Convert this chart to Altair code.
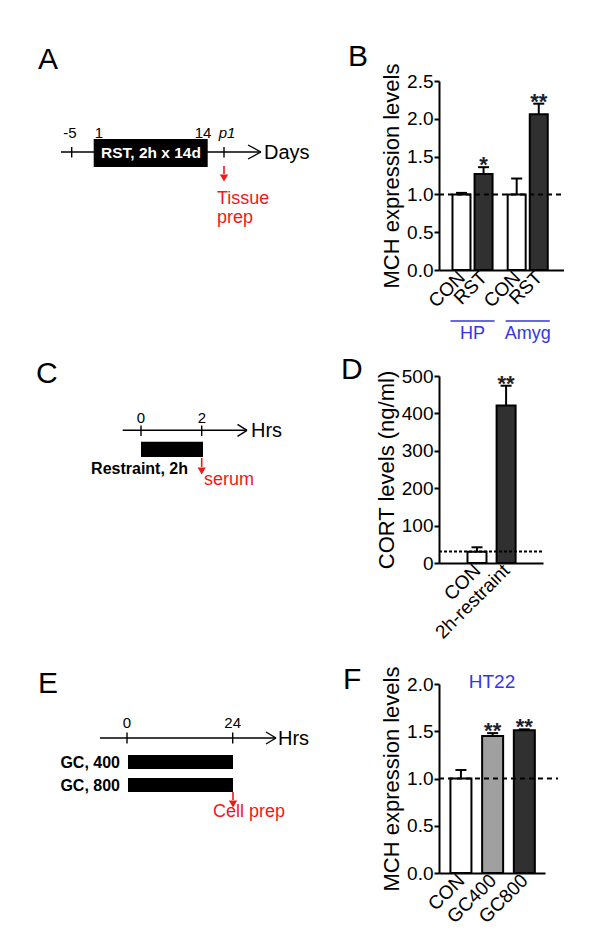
import altair as alt
import pandas as pd

FONT = "Liberation Sans"
RED = "#f01818"
BLUE = "#3535e6"
DARK = "#303030"
GREY = "#a0a0a0"

# ------------------------------------------------------------------ data
B_conditions = ["CON", "RST", "CON", "RST"]
B_regions = ["HP", "HP", "Amyg", "Amyg"]
B_means = [1.00, 1.27, 1.00, 2.06]
B_sems = [0.02, 0.09, 0.21, 0.14]
B_stars = ["", "*", "", "**"]
B_fills = ["white", DARK, "white", DARK]

D_conditions = ["CON", "2h-restraint"]
D_means = [30, 421]
D_sems = [12, 53]
D_stars = ["", "**"]
D_fills = ["white", DARK]

F_conditions = ["CON", "GC400", "GC800"]
F_means = [1.00, 1.45, 1.51]
F_sems = [0.09, 0.03, 0.01]
F_stars = ["", "**", "**"]
F_fills = ["white", GREY, DARK]

A_day_labels = ["-5", "1", "14", "p1"]
C_hour_labels = ["0", "2"]
E_hour_labels = ["0", "24"]

# ------------------------------------------------------------------ layout
COL1_X0, COL1_W = 30, 290
COL2_X0 = 438
ROW_TOPS = [80, 375, 683]
ROW_GAP = 106


def diagram(top, height, lines, boxes, labels, arrows, anchor=False):
    xsc = alt.Scale(domain=[COL1_X0, COL1_X0 + COL1_W], nice=False, zero=False)
    ysc = alt.Scale(domain=[top, top + height], nice=False, zero=False, reverse=True)

    def X(f):
        return alt.X(f + ":Q", scale=xsc, axis=None)

    def Y(f):
        return alt.Y(f + ":Q", scale=ysc, axis=None)

    layers = []
    all_lines = list(lines)
    pts = []
    for (ax, ay0, ay1) in arrows:
        all_lines.append((ax, ay0, ax, ay1 - 4, RED, 1.6))
        pts.append({"x": ax, "y": ay1})
    ldf = pd.DataFrame(all_lines, columns=["x", "y", "x2", "y2", "c", "w"])
    layers.append(
        alt.Chart(ldf).mark_rule(strokeCap="butt").encode(
            x=X("x"), y=Y("y"), x2="x2:Q", y2="y2:Q",
            color=alt.Color("c:N", scale=None),
            strokeWidth=alt.StrokeWidth("w:Q", scale=None),
        )
    )
    bdf = pd.DataFrame(boxes, columns=["x", "y", "x2", "y2"])
    layers.append(
        alt.Chart(bdf).mark_rect(color="black").encode(
            x=X("x"), x2="x2:Q", y=Y("y"), y2="y2:Q"
        )
    )
    if pts:
        layers.append(
            alt.Chart(pd.DataFrame(pts)).mark_point(
                shape="triangle-down", filled=True, color=RED, size=70,
                opacity=1, strokeWidth=0
            ).encode(x=X("x"), y=Y("y"))
        )
    for (t, x, y, style) in labels:
        st = dict(font=FONT, color="black", baseline="alphabetic", align="center")
        st.update(style)
        layers.append(
            alt.Chart(pd.DataFrame({"t": [t], "x": [x], "y": [y]}))
            .mark_text(**st)
            .encode(x=X("x"), y=Y("y"), text="t:N")
        )
    if anchor:
        layers.append(
            alt.Chart(pd.DataFrame({"x": [8], "y": [8]}))
            .mark_point(opacity=0, size=1)
            .encode(x=X("x"), y=Y("y"))
        )
    return alt.layer(*layers).properties(width=COL1_W, height=height)


def bar_panel(conds, means, sems, stars, fills, slots, slot_px, first_px,
              plot_w, plot_h, ydom, yvals, yfmt, ytitle, bar_w,
              ref_value, ref_dash, ref_x2, letter, letter_xy, extra=None):
    tops = [m + s for m, s in zip(means, sems)]
    df = pd.DataFrame(dict(slot=slots, cond=conds, mean=means, top=tops,
                           star=stars, fill=fills))
    xdom = [-first_px / slot_px, (plot_w - first_px) / slot_px]
    xsc = alt.Scale(domain=xdom, nice=False, zero=False)
    ysc = alt.Scale(domain=ydom, nice=False, zero=False)
    label_expr = ("[" + ",".join("'%s'" % c for c in conds) + "][indexof(["
                  + ",".join(str(s) for s in slots) + "], datum.value)]")
    x_axis = alt.Axis(values=slots, labelExpr=label_expr, ticks=False,
                      labelAngle=-45, labelAlign="right", labelBaseline="middle",
                      labelFont=FONT, labelFontSize=19, labelColor="black",
                      labelPadding=4, labelFlush=False, labelOverlap=False,
                      domainColor="black", domainWidth=2, title=None, grid=False)
    y_axis = alt.Axis(values=yvals, format=yfmt, title=ytitle, titleFont=FONT,
                      titleFontSize=22, titleFontWeight="normal", titleColor="black",
                      titlePadding=3, labelFont=FONT, labelFontSize=19,
                      labelColor="black", labelPadding=1, labelFlush=False,
                      labelOverlap=False, tickColor="black", tickWidth=2,
                      tickSize=5, domainColor="black", domainWidth=2, grid=False)

    def XN(f):
        return alt.X(f + ":Q", scale=xsc, axis=x_axis)

    def YN(f):
        return alt.Y(f + ":Q", scale=ysc, axis=y_axis)

    bars = alt.Chart(df).mark_bar(stroke="black", strokeWidth=2, width=bar_w,
                                  orient="vertical", strokeJoin="miter").encode(
        x=XN("slot"),
        y=YN("mean"),
        y2=alt.datum(0),
        fill=alt.Fill("fill:N", scale=None),
    )
    err = alt.Chart(df).mark_rule(color="black", strokeWidth=2).encode(
        x=XN("slot"), y=YN("mean"), y2="top:Q")
    caps = alt.Chart(df).mark_tick(color="black", thickness=2, size=11,
                                   orient="horizontal", opacity=1).encode(
        x=XN("slot"), y=YN("top"))
    star = alt.Chart(df).mark_text(font=FONT, fontSize=22, fontWeight="bold",
                                   color="#1e1e2a", baseline="alphabetic",
                                   dy=5).encode(x=XN("slot"), y=YN("top"),
                                                text="star:N")
    ref = alt.Chart(pd.DataFrame({"ref": [ref_value]})).mark_rule(
        color="black", strokeWidth=2, strokeDash=ref_dash).encode(
        y=YN("ref"), x=alt.value(0), x2=alt.value(ref_x2))
    let = alt.Chart(pd.DataFrame({"t": [letter]})).mark_text(
        font=FONT, fontSize=30, align="left", baseline="alphabetic",
        color="black").encode(x=alt.value(letter_xy[0]), y=alt.value(letter_xy[1]),
                              text="t:N")
    layers = [bars, ref, err, caps, star, let]
    if extra:
        layers += [e(XN) for e in extra]
    return alt.layer(*layers).properties(width=plot_w, height=plot_h)


# ------------------------------------------------------------------ panel A
A_lines = [
    (60, 151, 260, 151, "black", 1.4),
    (260, 151, 247, 144, "black", 1.4),
    (260, 151, 247, 158, "black", 1.4),
    (70.7, 146, 70.7, 156.5, "black", 1.4),
    (223, 146, 223, 156.5, "black", 1.4),
]
A_boxes = [(92.7, 138, 206.7, 166)]
A_labels = [
    ("A", 37, 68, dict(fontSize=30, align="left")),
    ("RST, 2h x 14d", 150, 152, dict(fontSize=15.5, fontWeight="bold",
                                     color="white", baseline="middle")),
    (A_day_labels[0], 69, 137, dict(fontSize=15)),
    (A_day_labels[1], 98, 137, dict(fontSize=15)),
    (A_day_labels[2], 202, 137, dict(fontSize=15)),
    (A_day_labels[3], 226, 137, dict(fontSize=15, fontStyle="italic")),
    ("Days", 263, 152, dict(fontSize=20, align="left", baseline="middle")),
    ("Tissue", 216, 203, dict(fontSize=18, align="left", color=RED)),
    ("prep", 216, 222, dict(fontSize=18, align="left", color=RED)),
]
A_arrows = [(223, 165, 177)]
panel_A = diagram(ROW_TOPS[0], 189, A_lines, A_boxes, A_labels, A_arrows, anchor=True)

# ------------------------------------------------------------------ panel C
C_lines = [
    (121.7, 429.3, 246, 429.3, "black", 1.4),
    (246, 429.3, 236.5, 423.3, "black", 1.4),
    (246, 429.3, 236.5, 435.3, "black", 1.4),
    (140, 424.5, 140, 435, "black", 1.4),
    (200.7, 424.5, 200.7, 435, "black", 1.4),
]
C_boxes = [(140, 440.7, 202, 456)]
C_labels = [
    ("C", 35, 382, dict(fontSize=30, align="left")),
    (C_hour_labels[0], 140, 421.5, dict(fontSize=15)),
    (C_hour_labels[1], 201, 421.5, dict(fontSize=15)),
    ("Hrs", 250, 430, dict(fontSize=20, align="left", baseline="middle")),
    ("Restraint, 2h", 187, 472.5, dict(fontSize=16, fontWeight="bold", align="right")),
    ("serum", 203, 484, dict(fontSize=18, align="left", color=RED)),
]
C_arrows = [(200.7, 457, 470)]
panel_C = diagram(ROW_TOPS[1], 202, C_lines, C_boxes, C_labels, C_arrows)

# ------------------------------------------------------------------ panel E
E_lines = [
    (99, 737, 275, 737, "black", 1.4),
    (275, 737, 265, 731, "black", 1.4),
    (275, 737, 265, 743, "black", 1.4),
    (126, 731.5, 126, 742.5, "black", 1.4),
    (231.7, 731.5, 231.7, 742.5, "black", 1.4),
]
E_boxes = [(127, 754, 232, 768), (127, 777, 232, 791)]
E_labels = [
    ("E", 37, 692, dict(fontSize=30, align="left")),
    (E_hour_labels[0], 126, 726.5, dict(fontSize=15)),
    (E_hour_labels[1], 231.7, 726.5, dict(fontSize=15)),
    ("Hrs", 277, 738, dict(fontSize=20, align="left", baseline="middle")),
    ("GC, 400", 119, 767, dict(fontSize=16, fontWeight="bold", align="right")),
    ("GC, 800", 119, 790, dict(fontSize=16, fontWeight="bold", align="right")),
    ("Cell prep", 248, 816, dict(fontSize=18, color=RED)),
]
E_arrows = [(232, 791, 803)]
panel_E = diagram(ROW_TOPS[2], 189, E_lines, E_boxes, E_labels, E_arrows)

# ------------------------------------------------------------------ panel B
B_group_idx = [0, 0, 1, 1]
B_cond_idx = [0, 1, 0, 1]
B_slots = [g * 2.5 + c for g, c in zip(B_group_idx, B_cond_idx)]
B_group_names = ["HP", "Amyg"]
B_group_centers = [g * 2.5 + 0.5 for g in range(2)]
grp_df = pd.DataFrame({
    "region": B_group_names,
    "c": B_group_centers,
    "x1": [c - 1 for c in B_group_centers],
    "x2": [c + 1 for c in B_group_centers],
})
B_extra = [
    lambda XN: alt.Chart(grp_df).mark_rule(color=BLUE, strokeWidth=1.6).encode(
        x=XN("x1"), x2="x2:Q", y=alt.value(240)),
    lambda XN: alt.Chart(grp_df).mark_text(font=FONT, fontSize=18, color=BLUE,
                                           baseline="top").encode(
        x=XN("c"), y=alt.value(244), text="region:N"),
]
panel_B = bar_panel(B_conditions, B_means, B_sems, B_stars, B_fills, B_slots,
                    24, 19, 125, 189, [0, 2.5], [0, 0.5, 1.0, 1.5, 2.0, 2.5],
                    ".1f", "MCH expression levels", 18, 1.0, [5, 4], 122,
                    "B", (-91, -15), B_extra)

# ------------------------------------------------------------------ panel D
panel_D = bar_panel(D_conditions, D_means, D_sems, D_stars, D_fills, [0, 1],
                    32.2, 36.5, 104, 187, [0, 500], [0, 100, 200, 300, 400, 500],
                    "d", "CORT levels (ng/ml)", 19, 31, [3, 2], 103,
                    "D", (-98, 3))

# ------------------------------------------------------------------ panel F
ht_df = pd.DataFrame({"t": ["HT22"]})
F_extra = [
    lambda XN: alt.Chart(ht_df).mark_text(font=FONT, fontSize=19, color=BLUE,
                                          baseline="middle").encode(
        x=alt.value(53), y=alt.value(-2), text="t:N")
]
panel_F = bar_panel(F_conditions, F_means, F_sems, F_stars, F_fills, [0, 1, 2],
                    35, 18.7, 106, 189, [0, 2.0], [0, 0.5, 1.0, 1.5, 2.0],
                    ".1f", "MCH expression levels", 21, 1.0, [5, 4], 119,
                    "F", (-96, 5), F_extra)

chart = alt.concat(
    panel_A, panel_B, panel_C, panel_D, panel_E, panel_F,
    columns=2,
    spacing={"row": ROW_GAP, "column": COL2_X0 - (COL1_X0 + COL1_W)},
    bounds="flush",
    align="each",
    padding=0,
).configure_view(stroke=None).configure_axis(labelOverlap=False, labelFlush=False)

chart.save("out.html", embed_options={"renderer": "svg", "actions": False})
